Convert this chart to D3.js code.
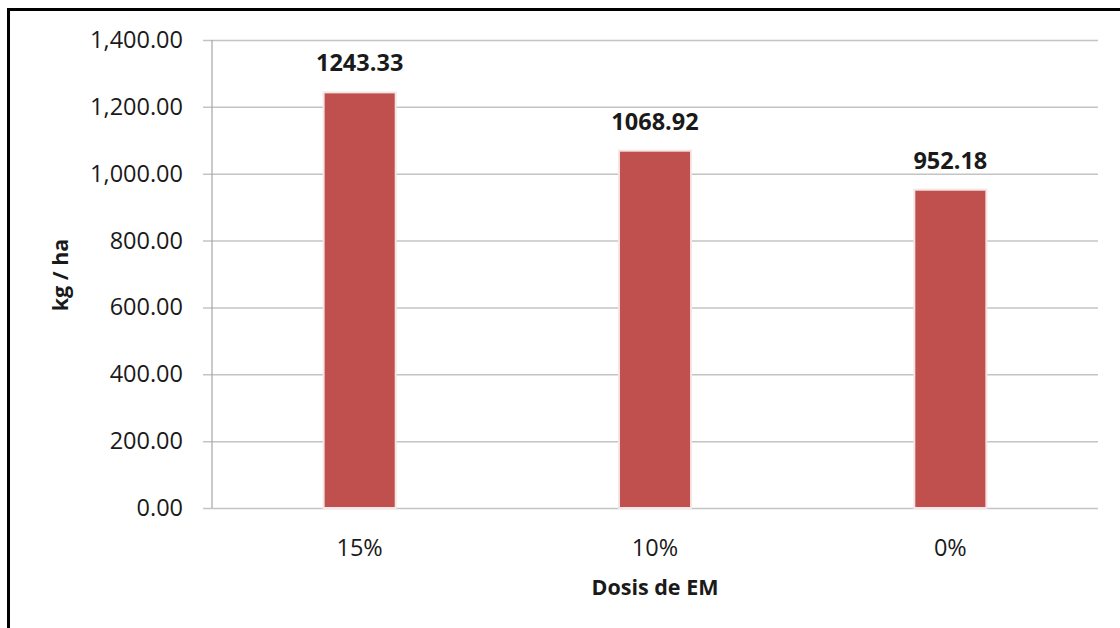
<!DOCTYPE html>
<html>
<head>
<meta charset="utf-8">
<script src="https://cdn.jsdelivr.net/npm/d3@7"></script>
<style>
  html, body { margin: 0; padding: 0; background: #fff; }
  svg { display: block; }
  text { font-family: "Open Sans", Lato, sans-serif; fill: #1a1a1a; }
</style>
</head>
<body>
<svg id="chart" width="1120" height="628"></svg>
<script>
// Dose of effective microorganisms vs. yield
const categories = ["15%", "10%", "0%"];
const yieldValues = [1243.33, 1068.92, 952.18];
const yTicks = [0, 200, 400, 600, 800, 1000, 1200, 1400];
const xTitle = "Dosis de EM";
const yTitle = "kg / ha";

const svg = d3.select("#chart");
const W = 1120, H = 628;
const margin = { left: 212, right: 22, top: 40, bottom: 120 };

svg.append("rect").attr("width", W).attr("height", H).attr("fill", "#fff");

// frame lines on left and top
svg.append("line").attr("x1", 8.5).attr("x2", 8.5).attr("y1", 8).attr("y2", H)
  .attr("stroke", "#000").attr("stroke-width", 3);
svg.append("line").attr("x1", 7).attr("x2", W).attr("y1", 9.5).attr("y2", 9.5)
  .attr("stroke", "#000").attr("stroke-width", 3);

const x = d3.scaleBand().domain(categories)
  .range([margin.left, W - margin.right]).paddingInner(0.756).paddingOuter(0.378);
const y = d3.scaleLinear().domain([0, 1400]).range([H - margin.bottom, margin.top]);

const fmt = d3.format(",.2f");

// gridlines and y axis
const yAxis = d3.axisLeft(y).tickValues(yTicks).tickFormat(fmt)
  .tickSize(-(W - margin.right - margin.left)).tickPadding(29);
const gy = svg.append("g").attr("transform", `translate(${margin.left},0)`).call(yAxis);
gy.select(".domain").remove();
gy.selectAll(".tick line").attr("stroke", "#c4c4c4").attr("stroke-width", 1.5)
  .attr("x1", -9);
gy.selectAll(".tick text").attr("font-size", 23.5).attr("fill", "#1a1a1a");

// vertical axis line
svg.append("line").attr("x1", margin.left).attr("x2", margin.left)
  .attr("y1", y(1400)).attr("y2", y(0)).attr("stroke", "#a6a6a6").attr("stroke-width", 1.2);

// bars
svg.append("g").selectAll("rect").data(categories).join("rect")
  .attr("x", d => x(d))
  .attr("y", (d, i) => y(yieldValues[i]))
  .attr("width", x.bandwidth())
  .attr("height", (d, i) => y(0) - y(yieldValues[i]))
  .attr("fill", "#C0504D")
  .attr("stroke", "#f4e6e6").attr("stroke-width", 2);

// value labels
svg.append("g").selectAll("text").data(categories).join("text")
  .attr("x", d => x(d) + x.bandwidth() / 2)
  .attr("y", (d, i) => y(yieldValues[i]) - 21)
  .attr("text-anchor", "middle").attr("font-size", 23.5).attr("font-weight", "bold")
  .text((d, i) => yieldValues[i].toFixed(2));

// category labels
svg.append("g").selectAll("text").data(categories).join("text")
  .attr("x", d => x(d) + x.bandwidth() / 2)
  .attr("y", y(0) + 47.5)
  .attr("text-anchor", "middle").attr("font-size", 23.5)
  .text(d => d);

// axis titles
svg.append("text").attr("x", (margin.left + W - margin.right) / 2).attr("y", 595)
  .attr("text-anchor", "middle").attr("font-size", 21.5).attr("font-weight", "bold")
  .text(xTitle);
svg.append("text").attr("transform", `translate(68,275) rotate(-90)`)
  .attr("text-anchor", "middle").attr("font-size", 21.5).attr("font-weight", "bold")
  .text(yTitle);
</script>
</body>
</html>
